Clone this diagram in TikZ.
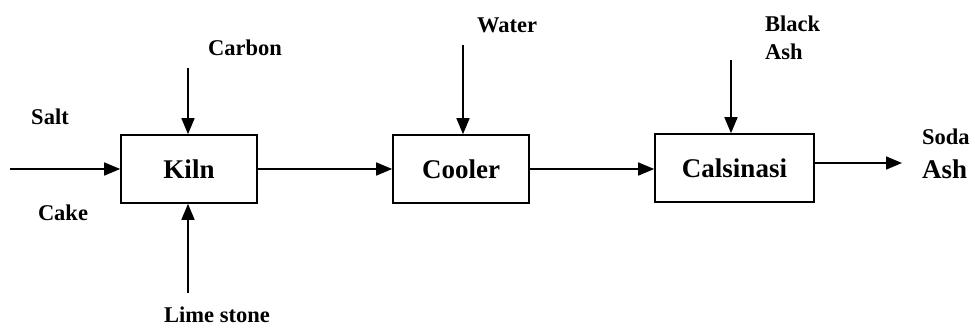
\documentclass[tikz,border=0pt]{standalone}
\usepackage{fontspec}
\setmainfont{Liberation Serif}
\usetikzlibrary{arrows.meta}
\tikzset{
  unit/.style={draw, line width=1.6pt, minimum width=136pt, minimum height=68pt, inner sep=0pt,
    font=\fontsize{27}{30}\selectfont\bfseries},
  lbl/.style={inner sep=0pt, font=\fontsize{22.5}{28}\selectfont\bfseries},
  arr/.style={line width=1.6pt, -{Triangle[length=16pt,width=13pt]}}
}
\begin{document}
\begin{tikzpicture}[x=1pt,y=-1pt]
\useasboundingbox (0,0) rectangle (975,330);
\node[unit] (kiln) at (189,169) {Kiln};
\node[unit] (cooler) at (461,169) {Cooler};
\node[unit, minimum width=159pt] (calc) at (734.5,168) {Calsinasi};

\node[lbl] (carbon) at (245,48) {Carbon};
\node[lbl] (water) at (507,25) {Water};
\node[lbl, anchor=west, align=left] (black) at (765,38) {Black\\Ash};
\node[lbl] (salt) at (50,117) {Salt};
\node[lbl] (cake) at (63,213) {Cake};
\node[lbl] (lime) at (217,315) {Lime stone};
\node[lbl, anchor=west] (soda) at (922,137) {Soda};
\node[inner sep=0pt, anchor=west, font=\fontsize{27}{30}\selectfont\bfseries] (ash) at (922,169) {Ash};

\coordinate (cin) at (188,68);
\coordinate (lin) at (188,293);
\coordinate (win) at (463,45);
\coordinate (bin) at (731,60);
\coordinate (sin) at (10,169);
\coordinate (out) at (902,163);

\draw[arr] (cin) -- (cin |- kiln.north);
\draw[arr] (lin) -- (lin |- kiln.south);
\draw[arr] (win) -- (win |- cooler.north);
\draw[arr] (bin) -- (bin |- calc.north);
\draw[arr] (sin) -- (sin -| kiln.west);
\draw[arr] (kiln.east) -- (kiln.east -| cooler.west);
\draw[arr] (cooler.east) -- (cooler.east -| calc.west);
\draw[arr] (out -| calc.east) -- (out);
\end{tikzpicture}
\end{document}
